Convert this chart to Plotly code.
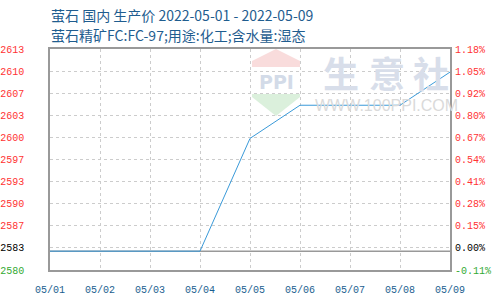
import plotly.graph_objects as go

dates = ["05/01", "05/02", "05/03", "05/04", "05/05", "05/06", "05/07", "05/08", "05/09"]
prices = [2583, 2583, 2583, 2583, 2600, 2605, 2605, 2605, 2610]
base_price = 2583
y_min = 2580.16
y_max = 2613.48
left_labels = ["2580", "2583", "2587", "2590", "2593", "2597", "2600", "2603", "2607", "2610", "2613"]
right_labels = ["-0.11%", "0.00%", "0.15%", "0.28%", "0.41%", "0.54%", "0.67%", "0.80%", "0.92%", "1.05%", "1.18%"]
title1 = "萤石 国内 生产价 2022-05-01 - 2022-05-09"
title2 = "萤石精矿FC:FC-97;用途:化工;含水量:湿态"

W, H = 500, 300
L, R, T, B = 50, 50, 49, 30
PW, PH = W - L - R, H - T - B

n = len(left_labels)
tickvals = [y_min + (y_max - y_min) * i / (n - 1) for i in range(n)]

RED = "#ff3333"
GREEN = "#33aa33"
BLACK = "#000000"

def colored(labels):
    out = []
    for i, t in enumerate(labels):
        c = GREEN if i == 0 else (BLACK if i == 1 else RED)
        out.append(f"<span style='color:{c}'>{t}</span>")
    return out

def px(x):
    return (x - L) / PW

def py(y):
    return (H - B - y) / PH

def path(points):
    return "M " + " L ".join(f"{px(a)} {py(b)}" for a, b in points) + " Z"

fig = go.Figure()
fig.add_trace(go.Scatter(x=dates, y=prices, mode="lines",
                         line=dict(color="#3a9ad9", width=1), hoverinfo="skip"))
fig.add_trace(go.Scatter(x=dates, y=prices, mode="lines", yaxis="y2",
                         line=dict(color="rgba(0,0,0,0)", width=0), hoverinfo="skip"))

tickfont = dict(family="Liberation Mono", size=10)

fig.update_layout(
    width=W, height=H,
    margin=dict(l=L, r=R, t=T, b=B, pad=0, autoexpand=False),
    paper_bgcolor="white", plot_bgcolor="white",
    showlegend=False,
    xaxis=dict(
        type="category", range=[0, len(dates) - 1], automargin=False,
        showgrid=True, gridcolor="#cccccc", griddash="3px,3px", gridwidth=1,
        showline=True, linecolor="#999999", linewidth=1.5, mirror=True,
        ticks="", tickfont=dict(family="Liberation Mono", size=10, color="#1a5e8f"),
        ticklabelstandoff=9, zeroline=False,
    ),
    yaxis=dict(
        range=[y_min, y_max], tickvals=tickvals, ticktext=colored(left_labels),
        automargin=False,
        showgrid=True, gridcolor="#cccccc", griddash="3px,3px", gridwidth=1,
        showline=True, linecolor="#999999", linewidth=1.5, mirror=True,
        ticks="", tickfont=tickfont, ticklabelstandoff=22, zeroline=False,
    ),
    yaxis2=dict(
        range=[y_min, y_max], tickvals=tickvals, ticktext=colored(right_labels),
        overlaying="y", side="right", showgrid=False, zeroline=False, automargin=False,
        showline=False, ticks="", tickfont=tickfont, ticklabelstandoff=4,
    ),
)

# base price line
fig.add_shape(type="line", xref="paper", yref="y", x0=0, x1=1, y0=base_price, y1=base_price,
              line=dict(color="#999999", width=1.5), layer="below")

# watermark logo
fig.add_shape(type="path", xref="paper", yref="paper", layer="below",
              path=path([(276, 49), (300, 61), (300, 67), (252, 67), (252, 61)]),
              fillcolor="#f9dcdc", line=dict(width=0))
fig.add_shape(type="path", xref="paper", yref="paper", layer="below",
              path=path([(252, 94), (300, 94), (300, 97), (276, 116), (252, 97)]),
              fillcolor="#dbf0dc", line=dict(width=0))
fig.add_annotation(x=px(276), y=py(82), xref="paper", yref="paper", text="<b>PPI</b>",
                   xanchor="center", yanchor="middle",
                   showarrow=False, font=dict(family="DejaVu Sans", size=19, color="#d3dbe8"))
for cx, ch in zip([341, 387, 431], "生意社"):
    fig.add_annotation(x=px(cx), y=py(72), xref="paper", yref="paper", text=f"<b>{ch}</b>",
                       xanchor="center", yanchor="middle",
                       showarrow=False, font=dict(family="Noto Sans CJK SC", size=36, color="#d8deea"))
fig.add_annotation(x=px(386), y=py(105), xref="paper", yref="paper", text="WWW.100PPI.COM",
                   xanchor="center", yanchor="middle",
                   showarrow=False, font=dict(family="Liberation Sans", size=16, color="#dadada"))

# titles
for text, yc in [(title1, 15), (title2, 35)]:
    fig.add_annotation(x=px(49), y=py(yc), xref="paper", yref="paper", text=text,
                       xanchor="left", yanchor="middle", showarrow=False,
                       font=dict(family="Noto Sans CJK SC", size=14, color="#1f5d8f"))

fig.write_html("out.html")
